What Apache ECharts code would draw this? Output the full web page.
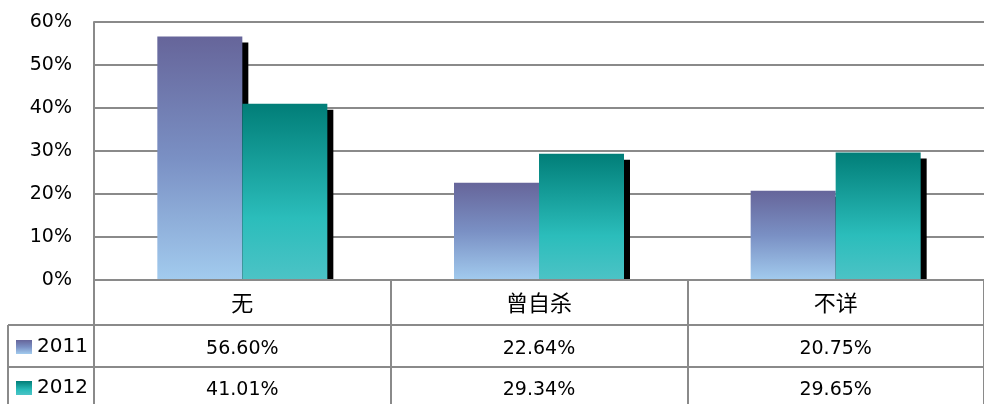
<!DOCTYPE html>
<html>
<head>
<meta charset="utf-8">
<script src="https://cdn.jsdelivr.net/npm/echarts@6/dist/echarts.min.js"></script>
<style>
  html, body { margin: 0; padding: 0; background: #fff; }
  #chart { width: 984px; height: 404px; }
</style>
</head>
<body>
<div id="chart"></div>
<script>
// 数据
const categories = ['无', '曾自杀', '不详'];
const seriesNames = ['2011', '2012'];
const values2011 = [56.60, 22.64, 20.75];
const values2012 = [41.01, 29.34, 29.65];
const tableText2011 = ['56.60%', '22.64%', '20.75%'];
const tableText2012 = ['41.01%', '29.34%', '29.65%'];

const lineColor = '#8a8a8a';
const fontFamily = 'DejaVu Sans';

function grad(stops) {
    return new echarts.graphic.LinearGradient(0, 0, 0, 1, stops);
}

const color2011 = grad([
    { offset: 0, color: '#66659a' },
    { offset: 0.5, color: '#7a90c4' },
    { offset: 1, color: '#a2cbee' }
]);
const color2012 = grad([
    { offset: 0, color: '#017e78' },
    { offset: 0.65, color: '#2bbdbb' },
    { offset: 1, color: '#4cc3c6' }
]);

const barShadow = {
    shadowColor: '#000',
    shadowBlur: 0,
    shadowOffsetX: 6,
    shadowOffsetY: 6
};

// 表格里的图例，一行一个
function tableLegend(name, top) {
    return {
        left: 16,
        top: top,
        padding: 0,
        icon: 'rect',
        itemWidth: 16,
        itemHeight: 14,
        selectedMode: false,
        textStyle: { fontSize: 20, fontFamily: fontFamily, color: '#000' },
        data: [name]
    };
}

let chart = echarts.init(document.getElementById('chart'));

let option = {
    animation: false,
    grid: {
        left: 94,
        top: 22,
        right: -4,
        bottom: 124
    },
    legend: [
        tableLegend(seriesNames[0], 337),
        tableLegend(seriesNames[1], 378)
    ],
    xAxis: {
        type: 'category',
        data: categories,
        z: 10,
        axisLine: { lineStyle: { color: lineColor, width: 2 } },
        axisTick: {
            show: true,
            interval: 0,
            length: 124,
            lineStyle: { color: lineColor, width: 2 }
        },
        axisLabel: {
            margin: 12,
            fontSize: 22,
            color: '#000',
            fontFamily: 'Noto Sans CJK SC'
        }
    },
    yAxis: {
        type: 'value',
        min: 0,
        max: 60,
        interval: 10,
        axisLine: { show: true, lineStyle: { color: lineColor, width: 2 } },
        axisTick: { show: false },
        splitLine: { lineStyle: { color: lineColor, width: 2 } },
        axisLabel: {
            margin: 22,
            fontSize: 19,
            color: '#000',
            fontFamily: fontFamily,
            formatter: '{value}%'
        }
    },
    series: [
        {
            name: seriesNames[0],
            type: 'bar',
            barWidth: 85,
            barGap: '0%',
            color: color2011,
            itemStyle: Object.assign({ color: color2011 }, barShadow),
            data: values2011
        },
        {
            name: seriesNames[1],
            type: 'bar',
            barWidth: 85,
            barGap: '0%',
            color: color2012,
            itemStyle: Object.assign({ color: color2012 }, barShadow),
            data: values2012
        }
    ]
};

chart.setOption(option);

// 数据表（图下方）
const gridBottom = 280;
const row1Top = 325;
const row2Top = 367;
const tableBottom = 404;
const tableLeft = 8;
const axisX = 94;
const rightX = 984;

let elements = [
    // 遮住轴下方的阴影
    { type: 'rect', z: 5, shape: { x: axisX + 2, y: gridBottom, width: rightX - axisX, height: 10 }, style: { fill: '#fff' } },
    { type: 'line', z: 20, shape: { x1: axisX, y1: gridBottom, x2: axisX, y2: tableBottom }, style: { stroke: lineColor, lineWidth: 2 } },
    { type: 'line', z: 20, shape: { x1: tableLeft, y1: row1Top, x2: rightX, y2: row1Top }, style: { stroke: lineColor, lineWidth: 2 } },
    { type: 'line', z: 20, shape: { x1: tableLeft, y1: row2Top, x2: rightX, y2: row2Top }, style: { stroke: lineColor, lineWidth: 2 } },
    { type: 'line', z: 20, shape: { x1: tableLeft, y1: row1Top, x2: tableLeft, y2: tableBottom }, style: { stroke: lineColor, lineWidth: 2 } }
];

categories.forEach((c, i) => {
    const x = chart.convertToPixel({ xAxisIndex: 0 }, c);
    elements.push({
        type: 'text', z: 20, x: x, y: 349,
        style: { text: tableText2011[i], fontSize: 19, fontFamily: fontFamily, fill: '#000', align: 'center', verticalAlign: 'middle' }
    });
    elements.push({
        type: 'text', z: 20, x: x, y: 390,
        style: { text: tableText2012[i], fontSize: 19, fontFamily: fontFamily, fill: '#000', align: 'center', verticalAlign: 'middle' }
    });
});

chart.setOption({ graphic: { elements: elements } });
</script>
</body>
</html>
